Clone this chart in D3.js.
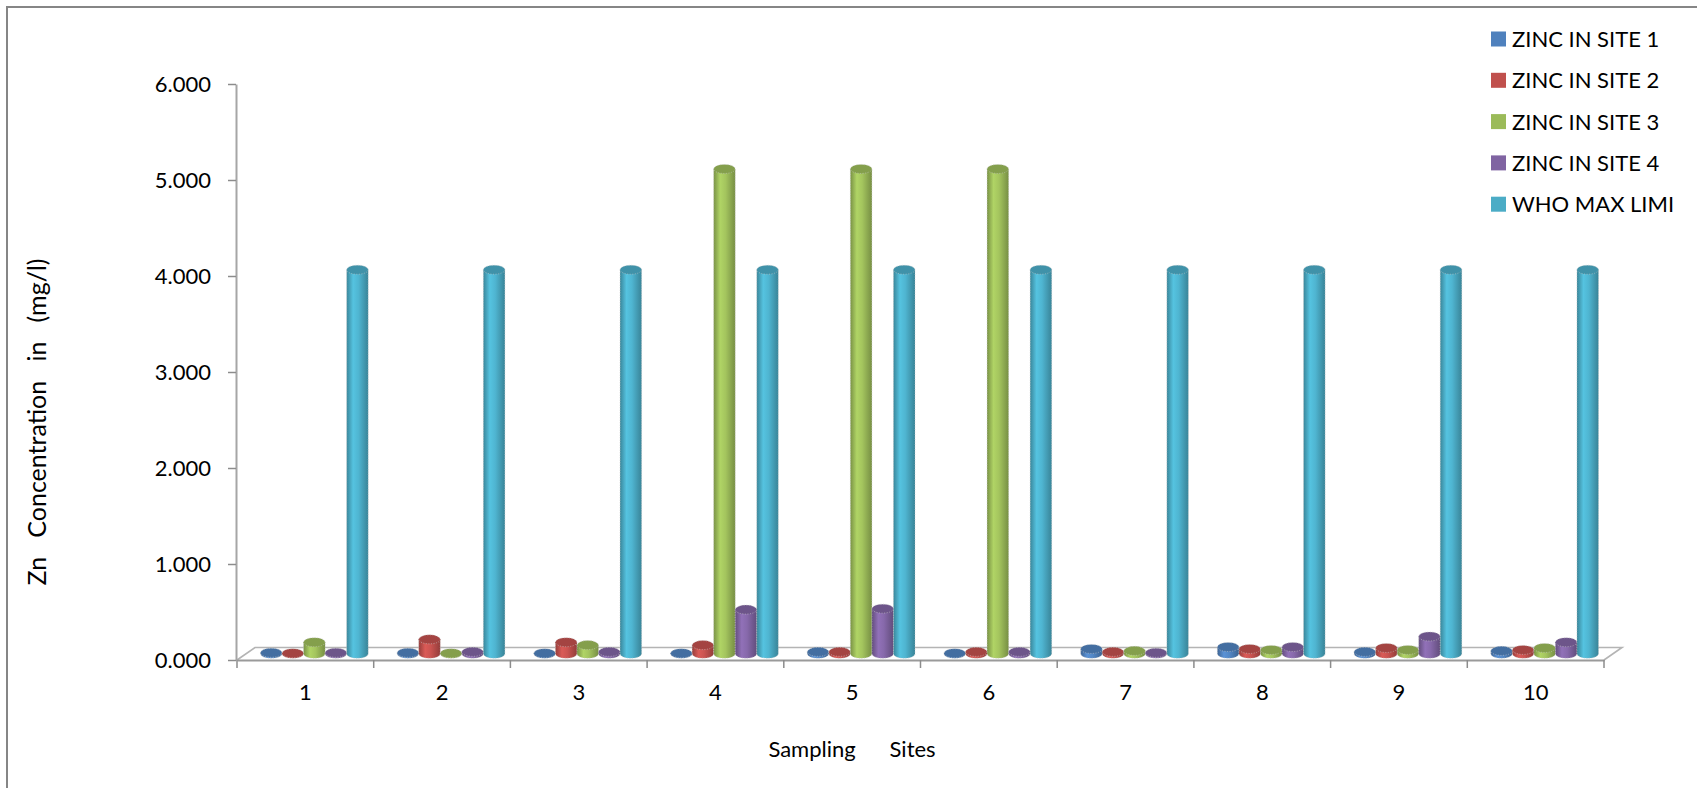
<!DOCTYPE html>
<html>
<head>
<meta charset="utf-8">
<script src="https://cdn.jsdelivr.net/npm/d3@7"></script>
<style>
  body { margin: 0; background: #fff; }
  svg { display: block; }
  text { font-family: Lato, "Open Sans", sans-serif; fill: #000; }
</style>
</head>
<body>
<svg id="chart" width="1697" height="788"></svg>
<script>
// Sampling sites along the category axis
const sites = ["1", "2", "3", "4", "5", "6", "7", "8", "9", "10"];
const seriesNames = ["ZINC IN SITE 1", "ZINC IN SITE 2", "ZINC IN SITE 3", "ZINC IN SITE 4", "WHO MAX LIMI"];

// Zinc concentration (mg/l) per sampling site
const site1 = [0.01, 0.01, 0.005, 0.005, 0.02, 0.005, 0.05, 0.07, 0.02, 0.03];
const site2 = [0.005, 0.15, 0.12, 0.09, 0.02, 0.02, 0.02, 0.05, 0.06, 0.04];
const site3 = [0.12, 0.005, 0.09, 5.05, 5.05, 5.05, 0.03, 0.04, 0.04, 0.06];
const site4 = [0.01, 0.02, 0.02, 0.46, 0.47, 0.02, 0.01, 0.07, 0.18, 0.12];
const whoLimit = [4.0, 4.0, 4.0, 4.0, 4.0, 4.0, 4.0, 4.0, 4.0, 4.0];

const yTicks = [0, 1, 2, 3, 4, 5, 6];
const seriesColors = ["#4F81BD", "#C0504D", "#9BBB59", "#8064A2", "#4BACC6"];

const seriesValues = [site1, site2, site3, site4, whoLimit];

const svg = d3.select("#chart");

// Chart frame
svg.append("rect")
  .attr("x", 7).attr("y", 7)
  .attr("width", 1720).attr("height", 820)
  .attr("fill", "none")
  .attr("stroke", "#868686")
  .attr("stroke-width", 2);

// Scales: front plane of the 3D box
const x0 = d3.scaleBand().domain(sites).range([237, 1604]).padding(0);
const inset = 14.5;
const x1 = d3.scaleBand().domain(seriesNames).range([inset, x0.bandwidth() - inset]).padding(0);
const y = d3.scaleLinear().domain([0, 6]).range([660, 84]);

// Depth of the floor and the mid-depth shift used for the columns
const depthX = 18, depthY = -12.5;
const midX = depthX / 2, midY = depthY / 2;

// Floor outline
const [fx0, fx1] = x0.range();
const fy = y(0);
svg.append("path")
  .attr("d", `M${fx0},${fy} L${fx0 + depthX},${fy + depthY} L${fx1 + depthX},${fy + depthY} L${fx1},${fy}`)
  .attr("fill", "none")
  .attr("stroke", "#b4b4b4")
  .attr("stroke-width", 1.6);

// Value axis
const yAxis = d3.axisLeft(y)
  .tickValues(yTicks)
  .tickFormat(d3.format(".3f"))
  .tickSize(8)
  .tickSizeOuter(0)
  .tickPadding(17);
const gy = svg.append("g").attr("transform", "translate(236,0)").call(yAxis);
gy.select(".domain").attr("stroke", "#a6a6a6").attr("stroke-width", 2);
gy.selectAll(".tick line").attr("stroke", "#8c8c8c").attr("stroke-width", 1.5);
gy.selectAll(".tick text").style("font-size", "22px").style("font-family", "Lato, sans-serif").attr("fill", "#000");

// Category axis: front floor edge, boundary ticks and centred labels
const xAxis = d3.axisBottom(x0).tickSize(0).tickPadding(24);
const gx = svg.append("g").attr("transform", `translate(0,${fy})`).call(xAxis);
gx.select(".domain").attr("stroke", "#9a9a9a").attr("stroke-width", 2.2);
gx.selectAll(".tick text").style("font-size", "22px").style("font-family", "Lato, sans-serif").attr("fill", "#000");

const boundaries = sites.map(s => x0(s)).concat([fx1]);
gx.selectAll(".bound")
  .data(boundaries)
  .join("line")
  .attr("class", "bound")
  .attr("x1", d => d).attr("x2", d => d)
  .attr("y1", 0).attr("y2", 8)
  .attr("stroke", "#8c8c8c")
  .attr("stroke-width", 1.5);

// Cylinder shading gradients
const defs = svg.append("defs");
seriesColors.forEach((c, i) => {
  const base = d3.color(c);
  const g = defs.append("linearGradient")
    .attr("id", `cyl${i}`)
    .attr("x1", "0").attr("x2", "1").attr("y1", "0").attr("y2", "0");
  g.append("stop").attr("offset", "0%").attr("stop-color", base.darker(0.7));
  g.append("stop").attr("offset", "30%").attr("stop-color", base.brighter(0.35));
  g.append("stop").attr("offset", "55%").attr("stop-color", base.brighter(0.15));
  g.append("stop").attr("offset", "100%").attr("stop-color", base.darker(0.75));
});

// Columns drawn as cylinders
const rows = [];
sites.forEach((s, ci) => {
  seriesNames.forEach((name, si) => {
    rows.push({ site: s, series: name, si, value: seriesValues[si][ci] });
  });
});

const ry = 4.5;
const bars = svg.append("g").selectAll("g.bar")
  .data(rows)
  .join("g")
  .attr("class", "bar");

bars.each(function (d) {
  const g = d3.select(this);
  const w = x1.bandwidth();
  const rx = w / 2;
  const left = x0(d.site) + x1(d.series) + midX;
  const yb = y(0) + midY;
  const yt = y(d.value) + midY;
  g.append("path")
    .attr("d", `M${left},${yt} L${left},${yb} A${rx},${ry} 0 0 0 ${left + w},${yb} L${left + w},${yt} Z`)
    .attr("fill", `url(#cyl${d.si})`)
    .attr("stroke", "#c4c4c4")
    .attr("stroke-width", 0.8)
    .attr("stroke-dasharray", "1,1.5")
    .attr("stroke-opacity", 0.8);
  g.append("ellipse")
    .attr("cx", left + rx).attr("cy", yt)
    .attr("rx", rx).attr("ry", ry)
    .attr("fill", d3.color(seriesColors[d.si]).darker(0.45))
    .attr("stroke", "#c4c4c4")
    .attr("stroke-width", 0.8)
    .attr("stroke-dasharray", "1,1.5")
    .attr("stroke-opacity", 0.8);
});

// Axis titles
svg.append("text")
  .attr("transform", "translate(46,422) rotate(-90)")
  .attr("text-anchor", "middle")
  .style("font-size", "25px")
  .style("white-space", "pre")
  .text("Zn   Concentration   in   (mg/l)");

svg.append("text")
  .attr("x", 852).attr("y", 757)
  .attr("text-anchor", "middle")
  .style("font-size", "22px")
  .style("white-space", "pre")
  .text("Sampling      Sites");

// Legend
const legend = svg.append("g").selectAll("g")
  .data(seriesNames)
  .join("g")
  .attr("transform", (d, i) => `translate(1491,${39 + i * 41.3})`);
legend.append("rect")
  .attr("x", 0).attr("y", -7.5)
  .attr("width", 15).attr("height", 15)
  .attr("fill", (d, i) => seriesColors[i]);
legend.append("text")
  .attr("x", 21).attr("y", 0)
  .attr("dy", "0.36em")
  .style("font-size", "22px")
  .text(d => d);
</script>
</body>
</html>
